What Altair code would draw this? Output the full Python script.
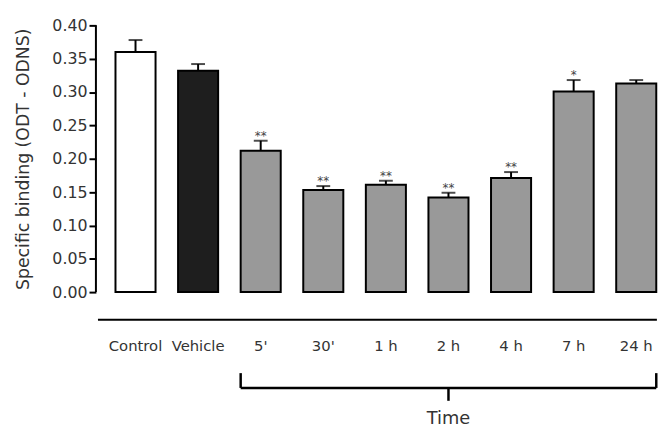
import altair as alt
import pandas as pd

categories = ["Control", "Vehicle", "5'", "30'", "1 h", "2 h", "4 h", "7 h", "24 h"]
means = [0.360, 0.332, 0.212, 0.153, 0.161, 0.142, 0.171, 0.301, 0.313]
errors = [0.018, 0.010, 0.015, 0.006, 0.006, 0.007, 0.009, 0.017, 0.005]
stars = ["", "", "**", "**", "**", "**", "**", "*", ""]
groups = ["Control", "Vehicle", "Time", "Time", "Time", "Time", "Time", "Time", "Time"]
y_ticks = [0.0, 0.05, 0.10, 0.15, 0.20, 0.25, 0.30, 0.35, 0.40]
time_label = "Time"
y_title = "Specific binding (ODT - ODNS)"

HALF = 0.32
FONT = "DejaVu Sans"
TXT = "#333333"

df = pd.DataFrame({
    "cat": categories,
    "idx": list(range(len(categories))),
    "mean": means,
    "err": errors,
    "star": stars,
    "group": groups,
})
df["top"] = df["mean"] + df["err"]
df["x0"] = df["idx"] - HALF
df["x1"] = df["idx"] + HALF

start = categories.index("5'") - HALF
end = categories.index("24 h") + HALF
mid = (categories.index("5'") + categories.index("24 h")) / 2

xs = alt.Scale(domain=[-0.38, 8.38], nice=False, zero=False)
ys = alt.Scale(domain=[-0.2, 0.4], nice=False, zero=False)

base = alt.Chart(df)

bars = base.mark_bar(stroke="black", strokeWidth=2).encode(
    x=alt.X("x0:Q", scale=xs, axis=None),
    x2="x1:Q",
    y=alt.Y("mean:Q", scale=ys, axis=alt.Axis(
        values=y_ticks, format=".2f", title=y_title, grid=False, domain=False,
        offset=16, tickSize=7, tickWidth=2, tickColor="black",
        labelFont=FONT, labelFontSize=16, labelColor=TXT, labelPadding=2,
        titleFont=FONT, titleFontSize=17.5, titleFontWeight="normal", titleColor=TXT,
        titleX=-73, titleY=135, titleAngle=270, titleAlign="center", titleBaseline="middle",
    )),
    y2=alt.datum(0),
    fill=alt.Fill("group:N", scale=alt.Scale(domain=["Control", "Vehicle", "Time"],
                                              range=["#ffffff", "#1e1e1e", "#999999"]), legend=None),
)

err_rule = base.mark_rule(color="black", strokeWidth=2).encode(
    x=alt.X("idx:Q", scale=xs), y=alt.Y("mean:Q", scale=ys), y2="top:Q"
)
err_cap = base.mark_tick(color="black", thickness=2, size=14, orient="horizontal").encode(
    x=alt.X("idx:Q", scale=xs), y=alt.Y("top:Q", scale=ys)
)
star_txt = base.mark_text(font=FONT, fontSize=12, color="#444444", baseline="alphabetic", dy=-1).encode(
    x=alt.X("idx:Q", scale=xs), y=alt.Y("top:Q", scale=ys), text="star:N"
)

labels = base.mark_text(font=FONT, fontSize=15, color=TXT, baseline="middle").encode(
    x=alt.X("idx:Q", scale=xs), y=alt.datum(-0.0815, scale=ys), text="cat:N"
)

line_df = pd.DataFrame({"a": [-0.6], "b": [8.33], "y": [-0.0415]})
hline = alt.Chart(line_df).mark_rule(color="black", strokeWidth=2).encode(
    x=alt.X("a:Q", scale=xs), x2="b:Q", y=alt.Y("y:Q", scale=ys)
)

yaxis_df = pd.DataFrame({"y0": [0.0], "y1": [0.4]})
yaxis_line = alt.Chart(yaxis_df).mark_rule(color="black", strokeWidth=2).encode(
    x=alt.value(-16), y=alt.Y("y0:Q", scale=ys), y2="y1:Q"
)

br_h = pd.DataFrame({"a": [start], "b": [end], "y": [-0.1437]})
bracket_h = alt.Chart(br_h).mark_rule(color="black", strokeWidth=2.5).encode(
    x=alt.X("a:Q", scale=xs), x2="b:Q", y=alt.Y("y:Q", scale=ys)
)
br_v = pd.DataFrame({"x": [start, end, mid], "ya": [-0.1215, -0.1215, -0.1437],
                     "yb": [-0.1437, -0.1437, -0.163]})
bracket_v = alt.Chart(br_v).mark_rule(color="black", strokeWidth=2.5).encode(
    x=alt.X("x:Q", scale=xs), y=alt.Y("ya:Q", scale=ys), y2="yb:Q"
)
time_df = pd.DataFrame({"x": [mid], "y": [-0.19], "t": [time_label]})
time_txt = alt.Chart(time_df).mark_text(font=FONT, fontSize=18, color=TXT, baseline="middle").encode(
    x=alt.X("x:Q", scale=xs), y=alt.Y("y:Q", scale=ys), text="t:N"
)

chart = alt.layer(
    bars, err_rule, err_cap, star_txt, labels, hline, yaxis_line, bracket_h, bracket_v, time_txt
).properties(
    width=555, height=405,
    autosize=alt.AutoSizeParams(type="none"),
    padding={"left": 105, "top": 15, "right": 2, "bottom": 3},
    view=alt.ViewBackground(stroke="transparent", strokeWidth=0, strokeOpacity=0),
).configure_view(strokeWidth=0, stroke="transparent", strokeOpacity=0).configure(background="white")

chart.save("out.html", embed_options={"renderer": "svg", "actions": False})
